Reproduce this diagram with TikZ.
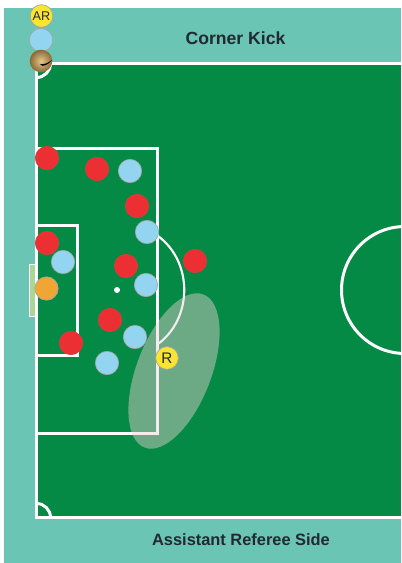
\documentclass[tikz,border=0pt]{standalone}
\usepackage{fontspec}
\setmainfont{Liberation Sans}
\usepackage{tikz}
\usetikzlibrary{shapes.geometric}
\usepackage{xcolor}
\definecolor{pitchgreen}{RGB}{5,138,69}
\definecolor{runoff}{RGB}{106,197,180}
\definecolor{goalgreen}{RGB}{170,215,150}
\definecolor{zonegrey}{RGB}{234,209,215}
\definecolor{teamred}{RGB}{236,47,51}
\definecolor{teamblue}{RGB}{147,213,240}
\definecolor{keeper}{RGB}{240,165,53}
\definecolor{official}{RGB}{249,229,47}
\definecolor{labeltext}{RGB}{35,40,50}
\definecolor{ballgold}{RGB}{228,200,135}
\definecolor{ballbrown}{RGB}{140,105,55}
\tikzset{
    player/.style={
        circle,
        draw=gray!70,
        line width=0.5pt,
        minimum size=17.5pt,
        inner sep=0pt
    },
    redplayer/.style={
        player,
        draw=teamred!85!gray,
        fill=teamred
    },
    blueplayer/.style={
        player,
        fill=teamblue
    },
    keepernode/.style={
        player,
        fill=keeper
    },
    refnode/.style={
        player,
        fill=official,
        minimum size=17pt,
        text=labeltext,
        font=\fontsize{11.5}{12}\selectfont
    },
    pitchline/.style={
        white,
        line width=2.25pt
    },
    sidelabel/.style={
        text=labeltext,
        font=\fontsize{13.2}{15}\selectfont\bfseries
    }
}

\begin{document}
\begin{tikzpicture}[x=0.75pt,y=-0.75pt]
    \useasboundingbox (0,0) rectangle (401,563);
    \clip (0,0) rectangle (401,563);
    % Ground
    \fill[white] (0,0) rectangle (401,563);
    \fill[runoff] (4,8) rectangle (401,563);
    \fill[pitchgreen] (36,63) rectangle (401,517);
    \filldraw[fill=goalgreen, draw=white, line width=0.6pt] (29.5,264) rectangle (36,316.5);

    % Pitch markings
    \draw[pitchline] (401,63.5) -- (36.5,63.5) -- (36.5,517.5) -- (401,517.5);
    \draw[pitchline] (36.5,148.5) -- (157.5,148.5) -- (157.5,433.5) -- (36.5,433.5);
    \draw[pitchline] (36.5,225.5) -- (77.5,225.5) -- (77.5,355.5) -- (36.5,355.5);
    \draw[pitchline] (50.5,63.5) arc[start angle=0,end angle=90,radius=14];
    \draw[pitchline] (50.5,517.5) arc[start angle=0,end angle=-90,radius=14];
    \draw[white, line width=1.6pt] (158,236) .. controls (193,262) and (193,318) .. (158,344);
    \draw[pitchline] (405,290) circle (63.5);
    \node[circle, fill=white, minimum size=4.5pt, inner sep=0pt] (spot) at (117,290) {};

    % Zone of the referee
    \node[ellipse, fill=zonegrey, fill opacity=0.45, minimum width=123pt, minimum height=56pt, rotate=69, inner sep=0pt] (zone) at (174,371) {};

    % Red team
    \node[redplayer] (red1) at (47,158) {};
    \node[redplayer] (red2) at (97,169) {};
    \node[redplayer] (red3) at (137,206) {};
    \node[redplayer] (red4) at (47,243) {};
    \node[redplayer] (red5) at (126,266) {};
    \node[redplayer] (red6) at (195,261) {};
    \node[redplayer] (red7) at (110,320) {};
    \node[redplayer] (red8) at (71,343) {};

    % Blue team
    \node[blueplayer] (blue1) at (130,171) {};
    \node[blueplayer] (blue2) at (147,232) {};
    \node[blueplayer] (blue3) at (63,262) {};
    \node[blueplayer] (blue4) at (146,285) {};
    \node[blueplayer] (blue5) at (135,337) {};
    \node[blueplayer] (blue6) at (107,363) {};
    \node[keepernode] (gk) at (46.5,288.5) {};

    % Officials and ball
    \node[refnode] (ref) at (167,358) {R};
    \node[refnode, font=\fontsize{9.5}{12}\selectfont] (ar) at (41.5,16) {AR};
    \node[blueplayer] (taker) at (41,40) {};
    \node[circle, minimum size=17pt, inner sep=0pt, shading=radial, inner color=ballgold, outer color=ballbrown] (ball) at (41,61) {};
    \fill[black] (40,64) .. controls (44,65) and (48,63) .. (52,60) .. controls (48,65) and (42,68) .. (40,64) -- cycle;

    % Labels
    \node[sidelabel] (corner) at (235.5,38) {Corner Kick};
    \node[sidelabel, font=\fontsize{12.3}{15}\selectfont\bfseries] (side) at (241,540) {Assistant Referee Side};
\end{tikzpicture}
\end{document}
